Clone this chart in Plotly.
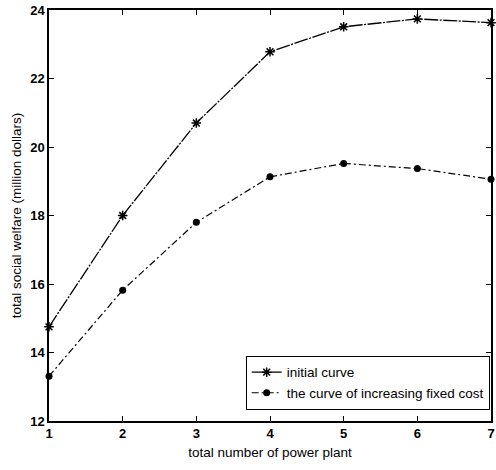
import plotly.graph_objects as go

plants = [1, 2, 3, 4, 5, 6, 7]
initial_curve = [14.75, 18.0, 20.7, 22.78, 23.51, 23.74, 23.63]
fixed_cost_curve = [13.31, 15.82, 17.8, 19.13, 19.52, 19.37, 19.06]
x_ticks = [1, 2, 3, 4, 5, 6, 7]
y_ticks = [12, 14, 16, 18, 20, 22, 24]

fig = go.Figure()
fig.add_trace(go.Scatter(
    x=plants, y=initial_curve, mode="lines+markers", name="initial curve",
    line=dict(color="black", width=1.3, dash="14px,1.5px,2px,1.5px"),
    marker=dict(symbol="asterisk-open", size=8, color="black", line=dict(width=1.5, color="black")),
    cliponaxis=False,
))
fig.add_trace(go.Scatter(
    x=plants, y=fixed_cost_curve, mode="lines+markers", name="the curve of increasing fixed cost",
    line=dict(color="black", width=1.2, dash="7px,3px,2px,3px"),
    marker=dict(symbol="circle", size=7, color="black"),
    cliponaxis=False,
))

axis_common = dict(
    showgrid=False, zeroline=False, showline=True, linecolor="black", linewidth=1.5,
    mirror="ticks", ticks="inside", ticklen=5, tickcolor="black", automargin=False,
    tickfont=dict(family="Arial", size=13, color="black", weight="bold"),
)
title_font = dict(family="Arial", size=13.5, color="black")
fig.update_xaxes(range=[1, 7], tickvals=x_ticks, **axis_common,
                 title=dict(text="total number of power plant", font=title_font, standoff=7))
fig.update_yaxes(range=[12, 24], tickvals=y_ticks, **axis_common,
                 title=dict(text="total social welfare (million dollars)", font=title_font, standoff=5))

fig.update_layout(
    width=496, height=470,
    margin=dict(l=49, r=5, t=10, b=49),
    paper_bgcolor="white", plot_bgcolor="white",
    showlegend=True,
    legend=dict(x=0.997, xanchor="right", y=0.027, yanchor="bottom",
                bordercolor="black", borderwidth=1, bgcolor="white",
                font=dict(family="Arial", size=13.5, color="black"),
                tracegroupgap=0, itemwidth=30),
)
fig.write_html("out.html", config={"displayModeBar": False},
               post_script="document.body.style.margin='0';document.body.style.overflow='hidden';")
